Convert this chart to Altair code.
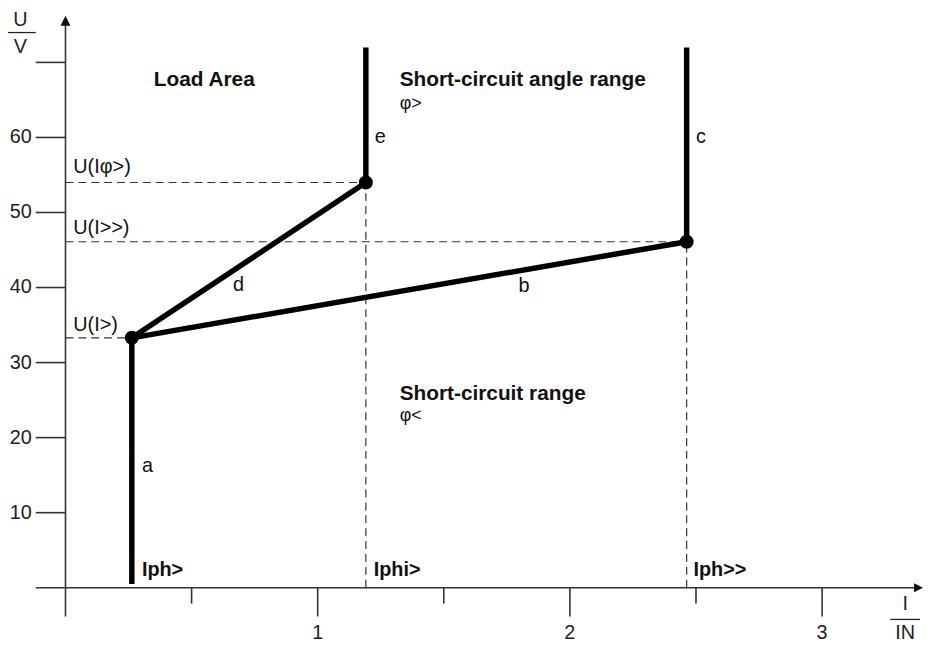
import altair as alt
import pandas as pd

# ---------------- data (I/IN, U/V) ----------------
# key points of the characteristic
point_name = ["U(I>)", "U(Iphi>)", "U(I>>)"]
point_I = [0.263, 1.191, 2.463]
point_U = [33.3, 54.0, 46.1]

# characteristic segments a..e (start and end)
seg_name = ["a", "b", "c", "d", "e"]
seg_I1 = [0.263, 0.263, 2.463, 0.263, 1.191]
seg_U1 = [0.5, 33.3, 46.1, 33.3, 54.0]
seg_I2 = [0.263, 2.463, 2.463, 1.191, 1.191]
seg_U2 = [33.3, 46.1, 72.0, 54.0, 72.0]

# letter labels of the segments
letter_text = ["a", "b", "c", "d", "e"]
letter_I = [0.303, 1.796, 2.500, 0.664, 1.226]
letter_U = [16.2, 40.2, 60.1, 40.3, 60.1]

# voltage threshold labels
ulabel_text = ["U(I>)", "U(I>>)", "U(Iφ>)"]
ulabel_U = [35.0, 47.95, 56.0]
ulabel_I = [0.031, 0.031, 0.031]

# current threshold labels
ilabel_text = ["Iph>", "Iphi>", "Iph>>"]
ilabel_I = [0.303, 1.222, 2.49]
ilabel_U = [2.3, 2.3, 2.3]

# region titles and sub labels
region_text = ["Load Area", "Short-circuit angle range", "Short-circuit range"]
region_I = [0.350, 1.325, 1.325]
region_U = [67.7, 67.6, 25.8]
sub_text = ["φ>", "φ<"]
sub_I = [1.325, 1.325]
sub_U = [64.5, 22.9]

# axis ticks
y_ticks = [10, 20, 30, 40, 50, 60, 70]
y_tick_labels = ["10", "20", "30", "40", "50", "60", ""]
x_major = [1, 2, 3]
x_major_labels = ["1", "2", "3"]
x_minor = [0.5, 1.5, 2.5]

# ---------------- layout ----------------
W, H = 923, 636
KX = 254.4   # px per unit I
KY = 7.57    # px per unit U
X_DOM = [-58 / KX, -58 / KX + W / KX]
Y_DOM = [582 / KY - H / KY, 582 / KY]

FONT = "Liberation Sans"
AX_COL = "#333333"

xs = alt.Scale(domain=X_DOM, nice=False, zero=False)
ys = alt.Scale(domain=Y_DOM, nice=False, zero=False)


def X(f="x"):
    return alt.X(f"{f}:Q", scale=xs, axis=None)


def Y(f="y"):
    return alt.Y(f"{f}:Q", scale=ys, axis=None)


tick_x0 = -30 / KX          # y-tick start (left of y axis)
tick_y_major = -29 / KY     # x major tick end
tick_y_minor = -16 / KY     # x minor tick end
ax_y_bottom = -29 / KY
ax_x_left = -30 / KX

# ---------------- axes ----------------
yaxis = alt.Chart(pd.DataFrame({"x": [0.0], "y": [ax_y_bottom], "y2": [Y_DOM[1] - 12 / KY]})).mark_rule(
    color=AX_COL, strokeWidth=1.6).encode(x=X(), y=Y(), y2="y2:Q")
xaxis = alt.Chart(pd.DataFrame({"x": [ax_x_left], "x2": [X_DOM[1] - 6 / KX], "y": [0.0]})).mark_rule(
    color=AX_COL, strokeWidth=1.6).encode(x=X(), x2="x2:Q", y=Y())

arrow_up = alt.Chart(pd.DataFrame({"x": [0.0], "y": [Y_DOM[1] - 10 / KY]})).mark_point(
    shape="M0,-1L-1,1L1,1Z", size=100, filled=True, color="#111111", opacity=1).encode(x=X(), y=Y())
arrow_right = alt.Chart(pd.DataFrame({"x": [X_DOM[1] - 4.5 / KX], "y": [0.0]})).mark_point(
    shape="M1,0L-1,-1L-1,1Z", size=81, filled=True, color="#111111", opacity=1).encode(x=X(), y=Y())

ytick_df = pd.DataFrame({"y": y_ticks, "lab": y_tick_labels})
ytick_df["x"] = tick_x0
ytick_df["x2"] = 0.0
yticks = alt.Chart(ytick_df).mark_rule(color=AX_COL, strokeWidth=1.6).encode(x=X(), x2="x2:Q", y=Y())
ylabels = alt.Chart(ytick_df).mark_text(
    align="right", baseline="middle", dx=-4, font=FONT, fontSize=20, color="#222222").encode(
    x=X(), y=Y(), text="lab:N")

xmaj_df = pd.DataFrame({"x": x_major, "lab": x_major_labels})
xmaj_df["y"] = 0.0
xmaj_df["y2"] = tick_y_major
xmaj_df["ylab"] = -46 / KY
xmaj = alt.Chart(xmaj_df).mark_rule(color=AX_COL, strokeWidth=1.6).encode(x=X(), y=Y(), y2="y2:Q")
xlabels = alt.Chart(xmaj_df).mark_text(
    align="center", baseline="middle", font=FONT, fontSize=20, color="#222222").encode(
    x=X(), y=Y("ylab"), text="lab:N")
xmin_df = pd.DataFrame({"x": x_minor})
xmin_df["y"] = 0.0
xmin_df["y2"] = tick_y_minor
xmin = alt.Chart(xmin_df).mark_rule(color=AX_COL, strokeWidth=1.6).encode(x=X(), y=Y(), y2="y2:Q")

# axis unit fractions
frac_df = pd.DataFrame({
    "x": [-45.5 / KX, -45.5 / KX, X_DOM[1] - 18 / KX, X_DOM[1] - 18 / KX],
    "y": [Y_DOM[1] - 9.5 / KY, Y_DOM[1] - 37 / KY, -16 / KY, -46 / KY],
    "t": ["U", "V", "I", "IN"],
})
frac_text = alt.Chart(frac_df).mark_text(
    align="center", baseline="middle", font=FONT, fontSize=20, color="#222222").encode(
    x=X(), y=Y(), text="t:N")
frac_lines_df = pd.DataFrame({
    "x": [X_DOM[0], X_DOM[1] - 33 / KX],
    "x2": [ax_x_left, X_DOM[1] - 3 / KX],
    "y": [Y_DOM[1] - 22 / KY, -32 / KY],
})
frac_lines = alt.Chart(frac_lines_df).mark_rule(color="#222222", strokeWidth=1.3).encode(
    x=X(), x2="x2:Q", y=Y())

# ---------------- dashed guides ----------------
pts = pd.DataFrame({"name": point_name, "x": point_I, "y": point_U})
hdash_df = pts.assign(x0=0.0)
hdash = alt.Chart(hdash_df).mark_rule(color="#333333", strokeWidth=1.2, strokeDash=[8, 5]).encode(
    x=X("x0"), x2="x:Q", y=Y())
vdash_df = pts[pts["name"] != "U(I>)"].assign(y0=0.0)
vdash = alt.Chart(vdash_df).mark_rule(color="#333333", strokeWidth=1.2, strokeDash=[8, 5]).encode(
    x=X(), y=Y("y0"), y2="y:Q")

# ---------------- characteristic ----------------
seg_df = pd.DataFrame({"seg": seg_name, "x": seg_I1, "y": seg_U1, "x2": seg_I2, "y2": seg_U2})
segs = alt.Chart(seg_df).mark_rule(color="#000000", strokeWidth=5.5).encode(
    x=X(), y=Y(), x2="x2:Q", y2="y2:Q")
dots = alt.Chart(pts).mark_circle(color="#000000", size=200, opacity=1).encode(x=X(), y=Y())

# ---------------- labels ----------------
letters = alt.Chart(pd.DataFrame({"x": letter_I, "y": letter_U, "t": letter_text})).mark_text(
    align="left", baseline="middle", font=FONT, fontSize=20, color="#111111").encode(
    x=X(), y=Y(), text="t:N")
ulabels = alt.Chart(pd.DataFrame({"x": ulabel_I, "y": ulabel_U, "t": ulabel_text})).mark_text(
    align="left", baseline="middle", font=FONT, fontSize=20, color="#111111").encode(
    x=X(), y=Y(), text="t:N")
ilabels = alt.Chart(pd.DataFrame({"x": ilabel_I, "y": ilabel_U, "t": ilabel_text})).mark_text(
    align="left", baseline="middle", font=FONT, fontSize=20, fontWeight="bold", color="#111111").encode(
    x=X(), y=Y(), text="t:N")
regions = alt.Chart(pd.DataFrame({"x": region_I, "y": region_U, "t": region_text})).mark_text(
    align="left", baseline="middle", font=FONT, fontSize=21, fontWeight="bold", color="#111111").encode(
    x=X(), y=Y(), text="t:N")
subs = alt.Chart(pd.DataFrame({"x": sub_I, "y": sub_U, "t": sub_text})).mark_text(
    align="left", baseline="middle", font=FONT, fontSize=18, color="#111111").encode(
    x=X(), y=Y(), text="t:N")

chart = alt.layer(
    hdash, vdash, yaxis, xaxis, yticks, xmaj, xmin, arrow_up, arrow_right,
    ylabels, xlabels, frac_text, frac_lines,
    segs, dots, letters, ulabels, ilabels, regions, subs,
).properties(
    width=W, height=H, padding=0,
    autosize=alt.AutoSizeParams(type="none"),
).configure(background="white").configure_view(stroke=None)

chart.save("out.html", embed_options={"renderer": "svg", "actions": False})
